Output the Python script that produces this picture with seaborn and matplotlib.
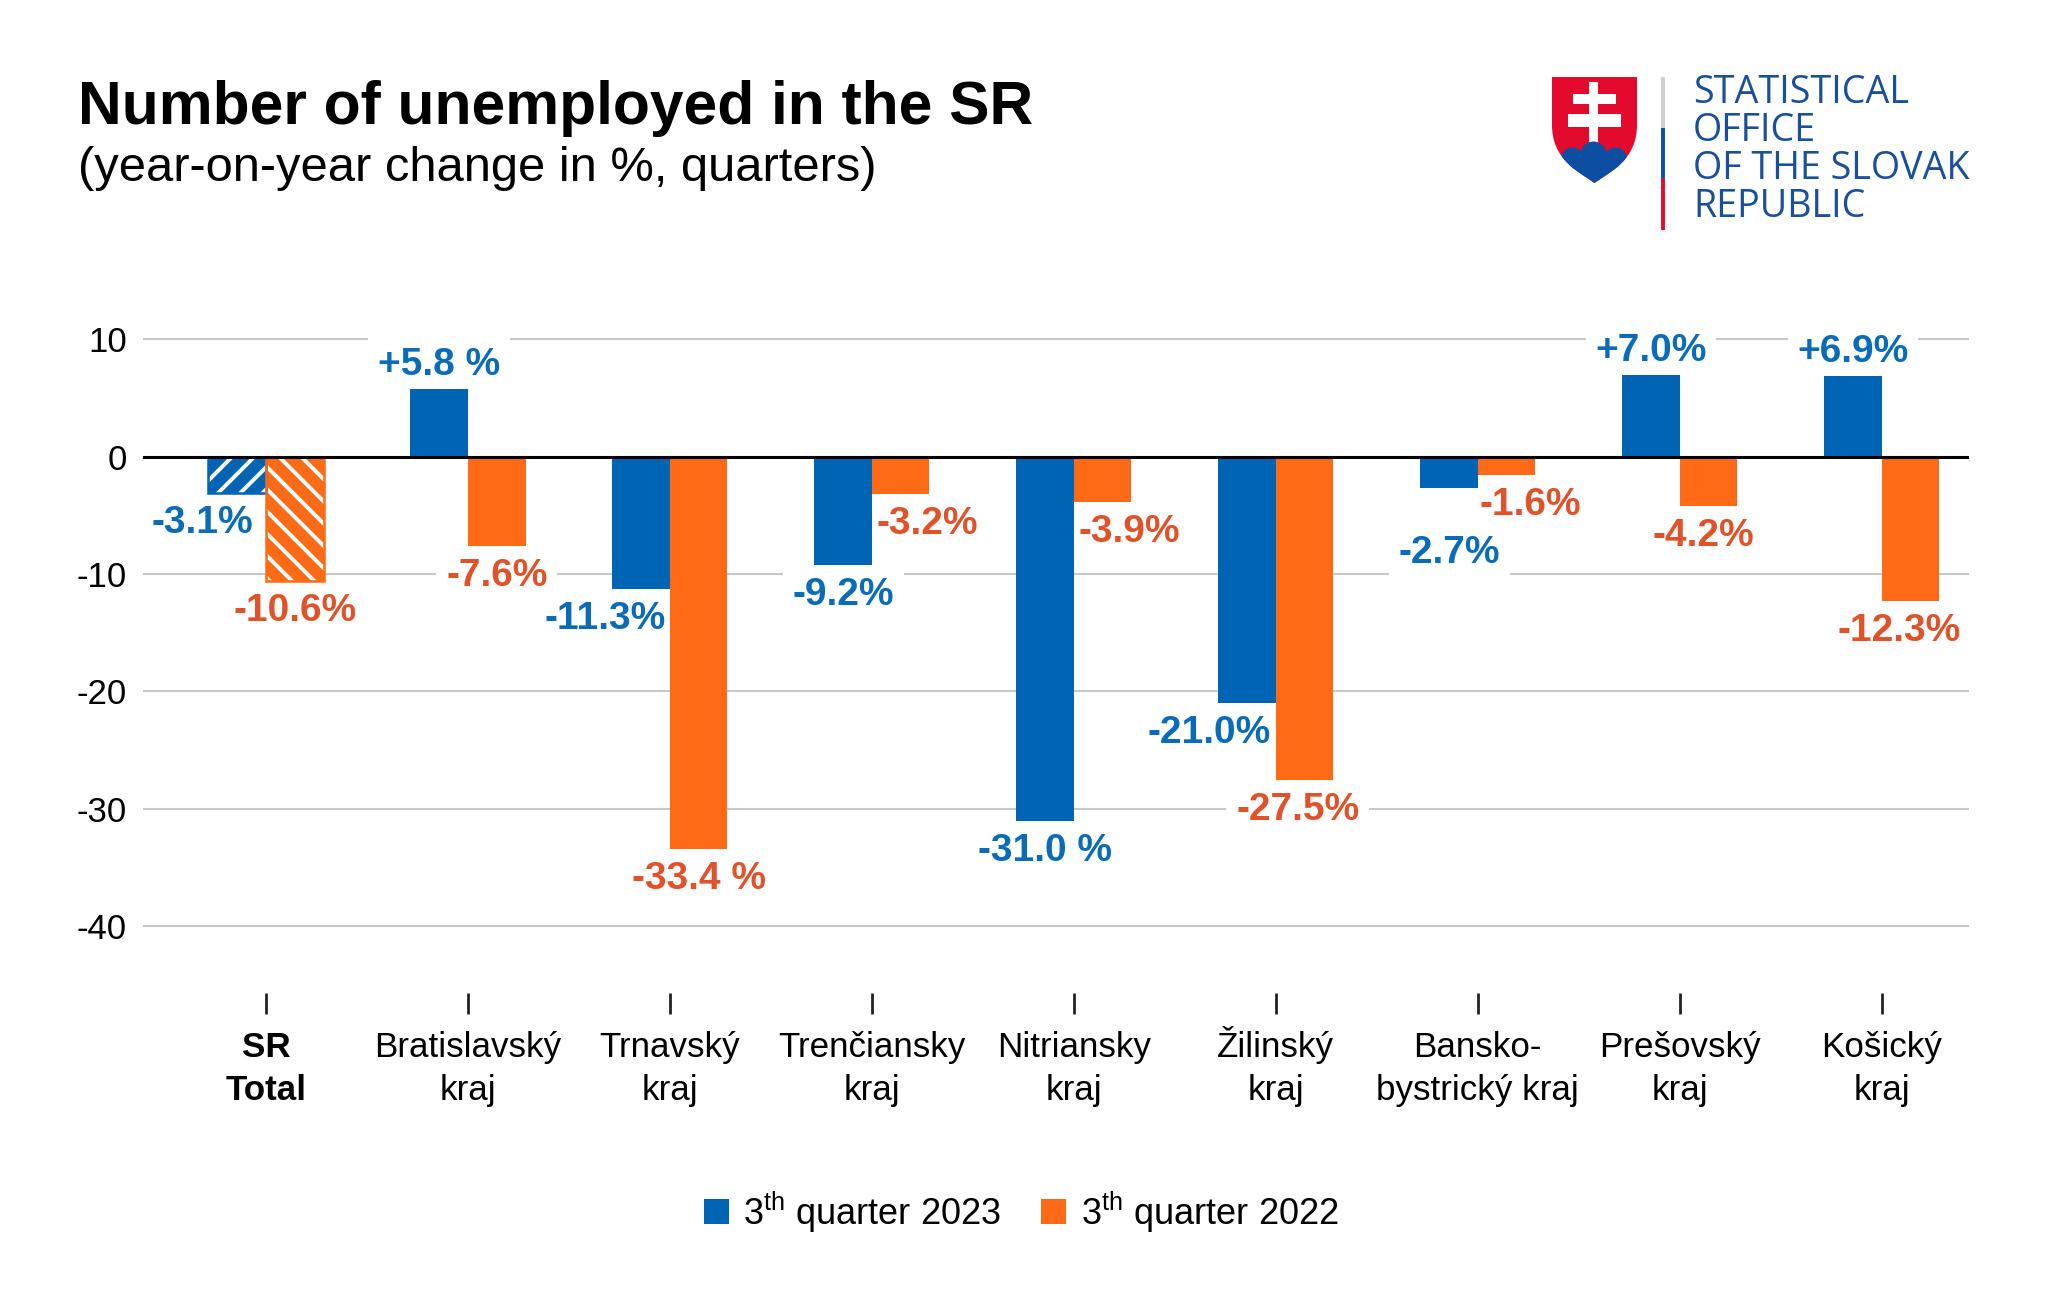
import numpy as np
import pandas as pd
import matplotlib
matplotlib.use("Agg")
import matplotlib.pyplot as plt
import seaborn as sns
from matplotlib.patches import Patch, Rectangle, PathPatch, Circle
from matplotlib.path import Path

# ---------------- data ----------------
categories = ["SR\nTotal", "Bratislavský\nkraj", "Trnavský\nkraj", "Trenčiansky\nkraj",
              "Nitriansky\nkraj", "Žilinský\nkraj", "Bansko-\nbystrický kraj",
              "Prešovský\nkraj", "Košický\nkraj"]
series_names = ["3th quarter 2023", "3th quarter 2022"]
q2023 = [-3.1, 5.8, -11.3, -9.2, -31.0, -21.0, -2.7, 7.0, 6.9]
q2022 = [-10.6, -7.6, -33.4, -3.2, -3.9, -27.5, -1.6, -4.2, -12.3]
labels2023 = ["-3.1%", "+5.8 %", "-11.3%", "-9.2%", "-31.0 %", "-21.0%", "-2.7%", "+7.0%", "+6.9%"]
labels2022 = ["-10.6%", "-7.6%", "-33.4 %", "-3.2%", "-3.9%", "-27.5%", "-1.6%", "-4.2%", "-12.3%"]
yticks = [-40, -30, -20, -10, 0, 10]
legend_labels = [r"$3^{\rm th}$ quarter 2023", r"$3^{\rm th}$ quarter 2022"]

# ---------------- style ----------------
BLUE = "#0064B4"
ORANGE = "#FF6A17"
BLUE_TXT = "#0A6BB8"
ORANGE_TXT = "#E0532A"
# label offsets in pixels (style)
dx_2023 = [-35, 0, -36, 0, 0, -38, 0, 0, 0]
dx_2022 = [0, 0, 0, 27, 27, -7, 24, -5, -11]
dy_2023 = [0, 0, 0, 0, 0, 0, 35, 0, 0]
dy_2022 = [0] * 9

sns.set_style("white")
plt.rcParams["font.family"] = ["Liberation Sans", "DejaVu Sans"]
plt.rcParams["axes.unicode_minus"] = False
plt.rcParams["mathtext.fontset"] = "custom"
plt.rcParams["mathtext.rm"] = "Liberation Sans"
plt.rcParams["mathtext.it"] = "Liberation Sans"
plt.rcParams["hatch.linewidth"] = 1.4
plt.rcParams["text.color"] = "black"

W, H, DPI = 2048, 1303, 200
fig = plt.figure(figsize=(W / DPI, H / DPI), dpi=DPI)
fig.patch.set_facecolor("white")

ax_left, ax_right, ax_top, ax_bot = 143, 1969, 315.8, 993.2
ax = fig.add_axes([ax_left / W, 1 - ax_bot / H, (ax_right - ax_left) / W, (ax_bot - ax_top) / H])

df = pd.DataFrame({
    "region": categories * 2,
    "series": [series_names[0]] * len(categories) + [series_names[1]] * len(categories),
    "value": q2023 + q2022,
})

sns.barplot(data=df, x="region", y="value", hue="series", hue_order=series_names,
            order=categories, palette=[BLUE, ORANGE], width=0.57, gap=0,
            saturation=1, legend=False, ax=ax, errorbar=None, linewidth=0, zorder=3)

ax.set_xlim(-0.609, 8.432)
ax.set_ylim(-45.7, 12)
ax.set_yticks(yticks)
ax.set_yticklabels([str(t) for t in yticks])
ax.set_xlabel("")
ax.set_ylabel("")
for s in ax.spines.values():
    s.set_visible(False)
ax.grid(axis="y", color="#C8C8C8", linewidth=0.75, zorder=0)
ax.grid(axis="x", visible=False)
ax.set_axisbelow(True)
ax.axhline(0, color="black", linewidth=1.1, zorder=4)

ax.tick_params(axis="y", length=0, pad=5.8, labelsize=12.5, labelcolor="black")
ax.tick_params(axis="x", length=7.5, width=1.0, color="#222222", direction="out",
               bottom=True, labelbottom=False)

# category labels, line by line, baseline-aligned
first_baseline_px = 1057 - ax_bot
line_pitch_px = 43
for i, cat in enumerate(categories):
    for j, line in enumerate(cat.split("\n")):
        ax.annotate(line, xy=(i, 0), xycoords=("data", "axes fraction"),
                    xytext=(0, -(first_baseline_px + j * line_pitch_px)),
                    textcoords="offset pixels", ha="center", va="baseline",
                    fontsize=12.6, fontweight="bold" if i == 0 else "normal",
                    color="black", annotation_clip=False)

# identify patches
bar_patches = [p for p in ax.patches if isinstance(p, Rectangle) and p.get_width() > 0]
for p in bar_patches:
    cx = p.get_x() + p.get_width() / 2
    cat = int(round(cx))
    ser = 0 if cx < cat else 1
    val = (q2023 if ser == 0 else q2022)[cat]
    lab = (labels2023 if ser == 0 else labels2022)[cat]
    dx = (dx_2023 if ser == 0 else dx_2022)[cat]
    dy = (dy_2023 if ser == 0 else dy_2022)[cat]
    col = BLUE if ser == 0 else ORANGE
    tcol = BLUE_TXT if ser == 0 else ORANGE_TXT
    if cat == 0:
        p.set_hatch("///" if ser == 0 else "\\\\\\")
        p.set_edgecolor("white")
        p.set_linewidth(0)
        ax.add_patch(Rectangle((p.get_x(), p.get_y()), p.get_width(), p.get_height(),
                               fill=False, edgecolor=col, linewidth=0.9, zorder=3.5))
    if val >= 0:
        ax.annotate(lab, xy=(cx, val), xytext=(dx, 14 + dy), textcoords="offset pixels",
                    ha="center", va="baseline", fontsize=14, fontweight="bold", color=tcol,
                    bbox=dict(boxstyle="square,pad=0.25", fc="white", ec="none"),
                    zorder=2, annotation_clip=False)
    else:
        ax.annotate(lab, xy=(cx, val), xytext=(dx, -12 - dy), textcoords="offset pixels",
                    ha="center", va="top", fontsize=14, fontweight="bold", color=tcol,
                    bbox=dict(boxstyle="square,pad=0.25", fc="white", ec="none"),
                    zorder=2, annotation_clip=False)

# legend
handles = [Patch(facecolor=BLUE, edgecolor="none"), Patch(facecolor=ORANGE, edgecolor="none")]
leg = fig.legend(handles=handles, labels=legend_labels, loc="center",
                 bbox_to_anchor=(1021 / W, 1 - 1212 / H), ncol=2, frameon=False, fontsize=13,
                 handlelength=0.7, handleheight=0.7, handletextpad=0.4, columnspacing=1.1,
                 labelcolor="black")

# titles
fig.text(78 / W, 1 - 124 / H, "Number of unemployed in the SR", fontsize=21.8,
         fontweight="bold", ha="left", va="baseline", color="black")
fig.text(78 / W, 1 - 181 / H, "(year-on-year change in %, quarters)", fontsize=17.6,
         ha="left", va="baseline", color="black")

# logo (decoration)
lax = fig.add_axes([0, 0, 1, 1], zorder=10)
lax.set_xlim(0, W)
lax.set_ylim(H, 0)
lax.axis("off")
lax.patch.set_alpha(0)
RED_L = "#E30A2D"
BLUE_L = "#0B4EA2"
verts = [(1552, 77), (1637, 77), (1637, 125),
         (1637, 160), (1610, 172), (1594.5, 183),
         (1579, 172), (1552, 160), (1552, 125), (1552, 77)]
codes = [Path.MOVETO, Path.LINETO, Path.LINETO,
         Path.CURVE4, Path.CURVE4, Path.CURVE4,
         Path.CURVE4, Path.CURVE4, Path.CURVE4, Path.CLOSEPOLY]
shield = PathPatch(Path(verts, codes), facecolor=RED_L, edgecolor="none")
lax.add_patch(shield)
for r in [Rectangle((1589, 82), 9, 65), Rectangle((1573, 93.5), 43, 10),
          Rectangle((1568, 113.5), 53, 13)]:
    r.set_facecolor("white"); r.set_edgecolor("none")
    lax.add_patch(r)
for c in [Circle((1593.5, 154.5), 13), Circle((1572.5, 159), 11.5), Circle((1615.5, 159), 11.5),
          Rectangle((1540, 159), 110, 40)]:
    c.set_facecolor(BLUE_L); c.set_edgecolor("none")
    lax.add_patch(c)
    c.set_clip_path(shield)
lax.plot([1663, 1663], [77, 128], color="#D0D0D0", lw=1.4, solid_capstyle="butt")
lax.plot([1663, 1663], [128, 178], color=BLUE_L, lw=1.4, solid_capstyle="butt")
lax.plot([1663, 1663], [178, 230], color=RED_L, lw=1.4, solid_capstyle="butt")
for i, line in enumerate(["STATISTICAL", "OFFICE", "OF THE SLOVAK", "REPUBLIC"]):
    lax.text(1693, 103 + 38 * i, line, fontsize=13.6, family=["Open Sans", "DejaVu Sans"],
             fontweight="medium", color="#1A4F9C", ha="left", va="baseline")

fig.savefig("out.png", dpi=DPI, facecolor="white")
